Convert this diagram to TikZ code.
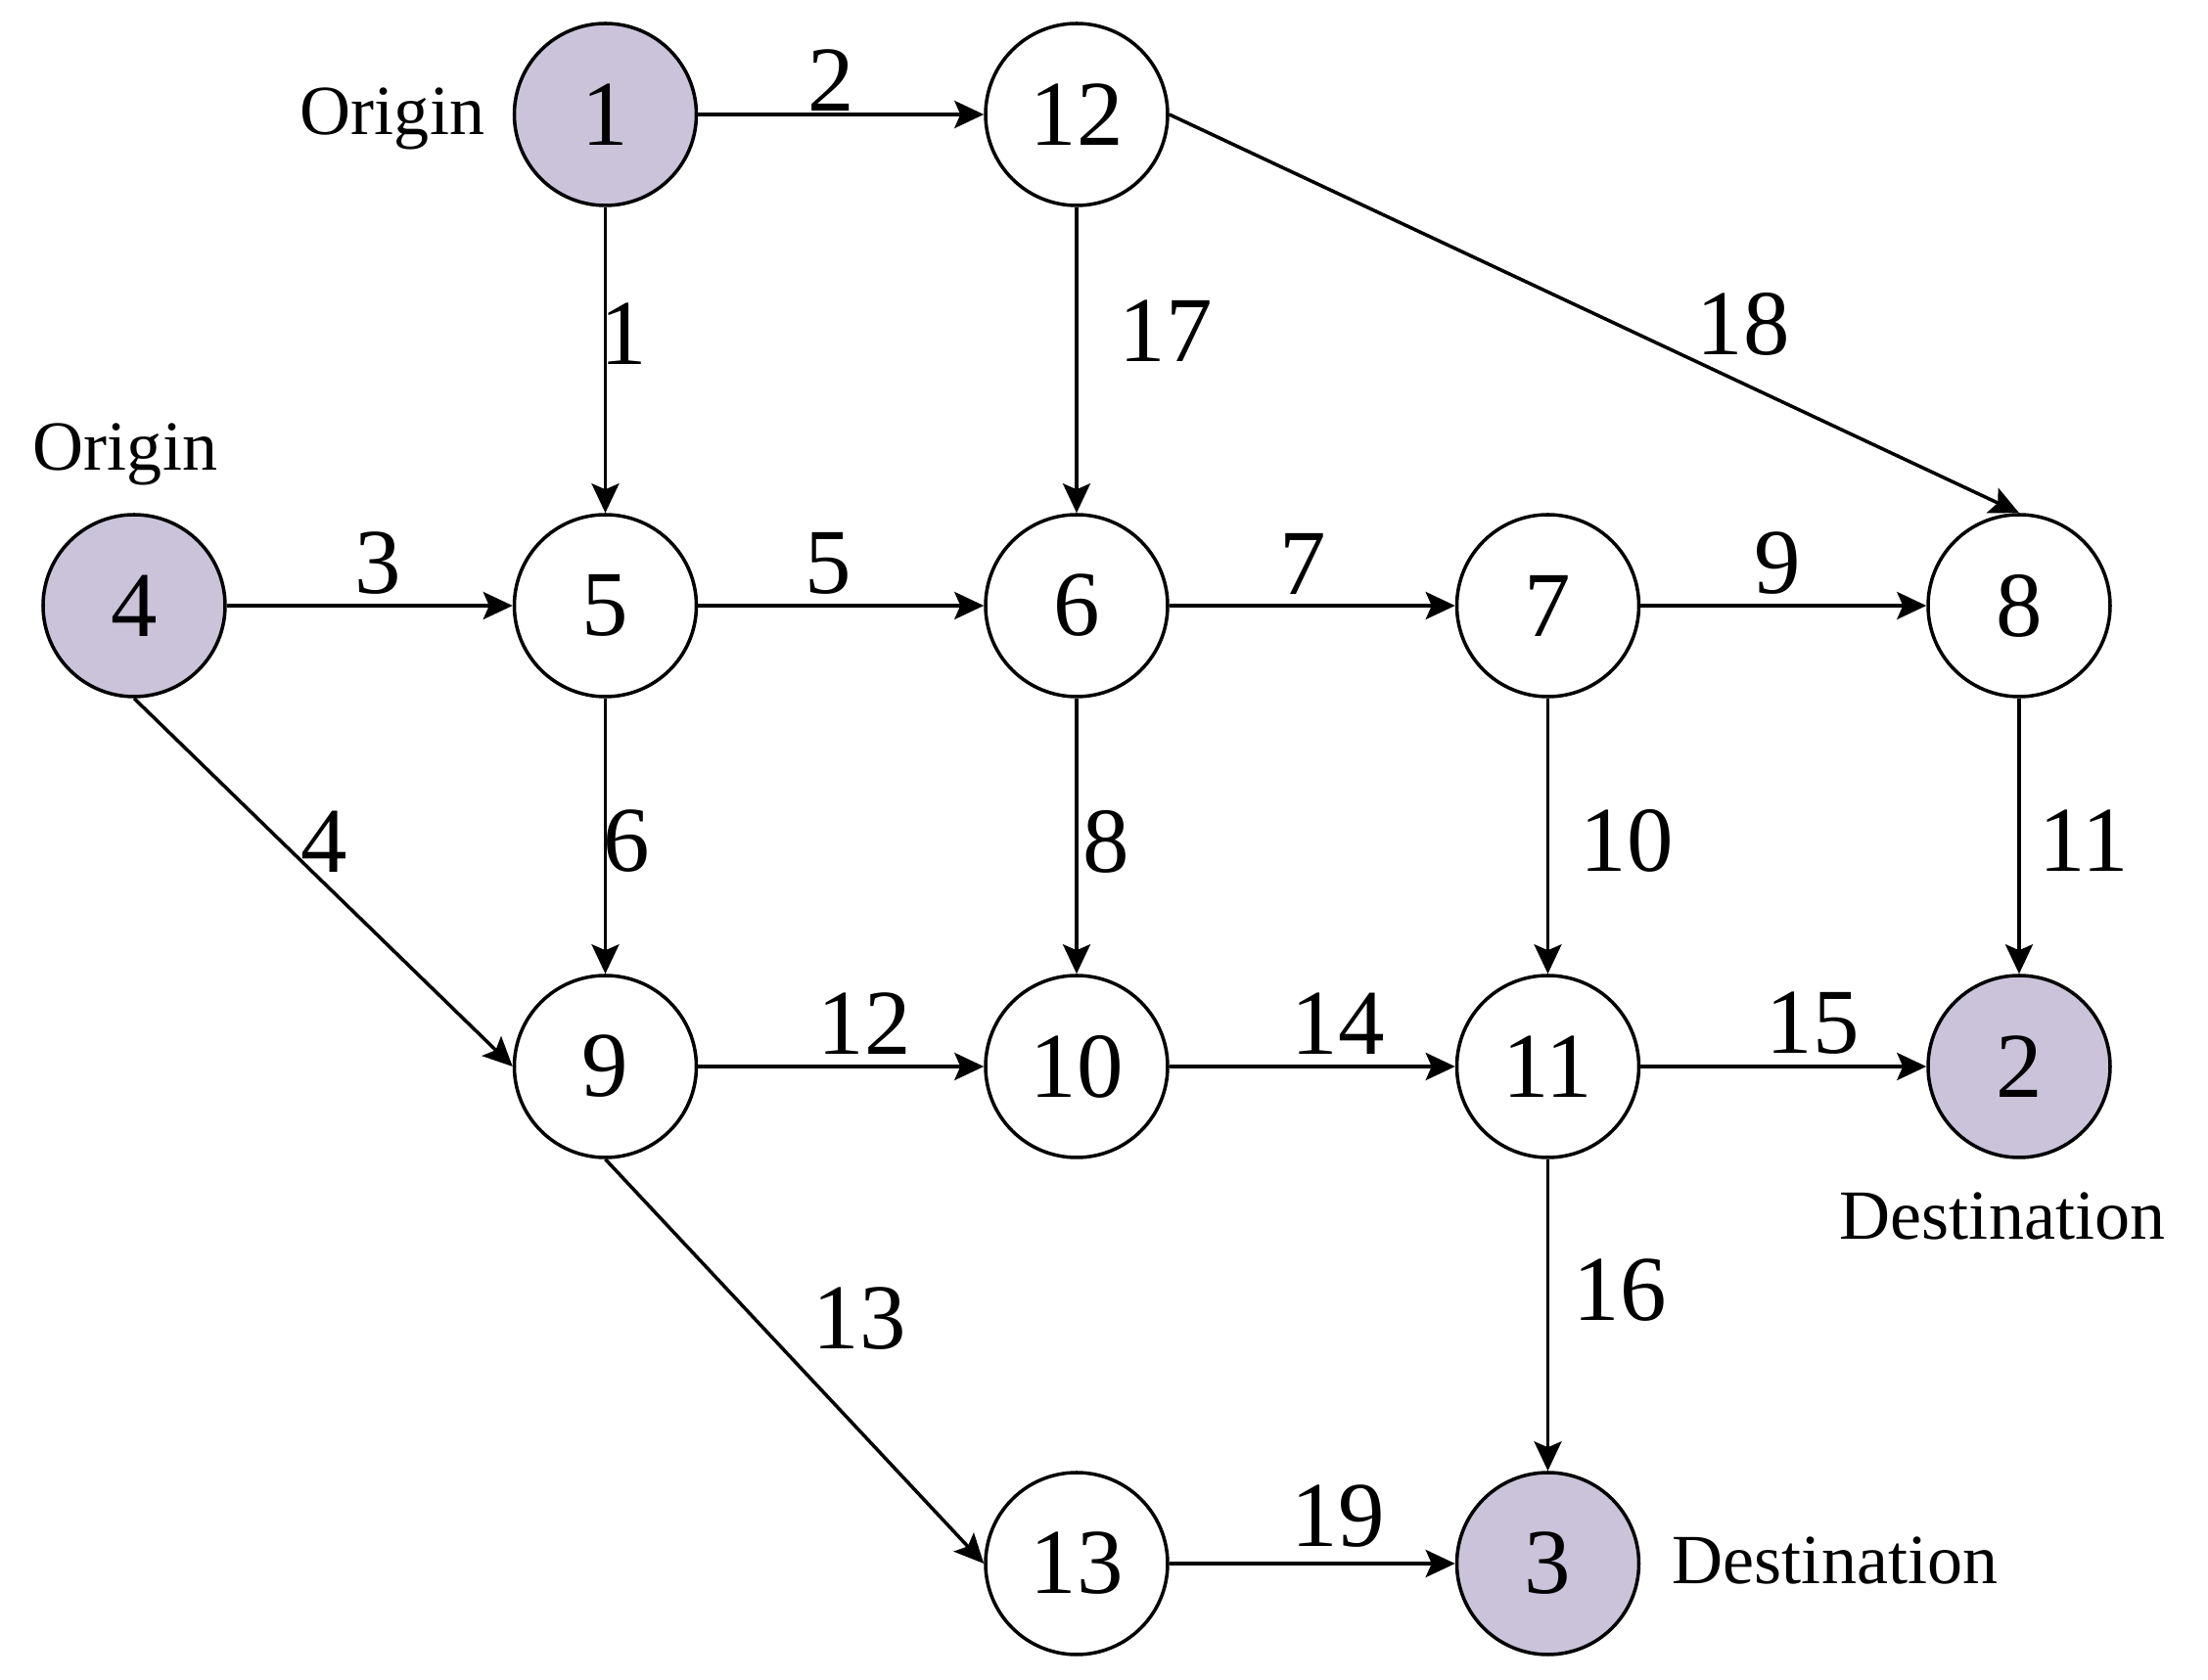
\documentclass[tikz,border=0pt]{standalone}
\usepackage{fontspec}
\setmainfont{Liberation Serif}
\usetikzlibrary{arrows.meta}
\definecolor{odfill}{RGB}{203,195,218}

\begin{document}
\begin{tikzpicture}[
    town/.style={draw, circle, line width=1pt, minimum size=1.86cm, inner sep=0pt, font=\fontsize{27}{32}\selectfont},
    odtown/.style={town, fill=odfill},
    link/.style={line width=1pt, -{Stealth[length=3mm, width=2.8mm, inset=0.6mm]}},
    linkno/.style={inner sep=0pt, font=\fontsize{27}{32}\selectfont},
    tag/.style={inner sep=0pt, anchor=base, font=\fontsize{20.5}{24}\selectfont}
]
    \useasboundingbox (0,0) rectangle (22.56,17.17);

    % Top row
    \node[odtown] (n1) at (6.185,16.00) {1};
    \node[town] (n12) at (11.00,16.00) {12};
    \node[tag] (o1) at (4.01,15.79) {Origin};

    % Second row
    \node[odtown] (n4) at (1.37,10.98) {4};
    \node[town] (n5) at (6.185,10.98) {5};
    \node[town] (n6) at (11.00,10.98) {6};
    \node[town] (n7) at (15.815,10.98) {7};
    \node[town] (n8) at (20.63,10.98) {8};
    \node[tag] (o4) at (1.28,12.36) {Origin};

    % Third row
    \node[town] (n9) at (6.185,6.27) {9};
    \node[town] (n10) at (11.00,6.27) {10};
    \node[town] (n11) at (15.815,6.27) {11};
    \node[odtown] (n2) at (20.63,6.27) {2};
    \node[tag] (d2) at (20.46,4.50) {Destination};

    % Bottom row
    \node[town] (n13) at (11.00,1.19) {13};
    \node[odtown] (n3) at (15.815,1.19) {3};
    \node[tag] (d3) at (18.75,0.98) {Destination};

    % Links out of the origins
    \draw[link] (n1) -- (n12);
    \node[linkno] (e2) at (8.49,16.35) {2};
    \draw[link] (n1) -- (n5);
    \node[linkno] (e1) at (6.37,13.76) {1};
    \draw[link] (n12) -- (n6);
    \node[linkno] (e17) at (11.91,13.79) {17};
    \draw[link] (n12.east) -- (n8.north);
    \node[linkno] (e18) at (17.81,13.86) {18};
    \draw[link] (n4) -- (n5);
    \node[linkno] (e3) at (3.86,11.41) {3};
    \draw[link] (n4.south) -- (n9.west);
    \node[linkno] (e4) at (3.31,8.57) {4};

    % Middle links
    \draw[link] (n5) -- (n6);
    \node[linkno] (e5) at (8.46,11.41) {5};
    \draw[link] (n6) -- (n7);
    \node[linkno] (e7) at (13.31,11.41) {7};
    \draw[link] (n7) -- (n8);
    \node[linkno] (e9) at (18.16,11.41) {9};
    \draw[link] (n5) -- (n9);
    \node[linkno] (e6) at (6.40,8.57) {6};
    \draw[link] (n6) -- (n10);
    \node[linkno] (e8) at (11.30,8.57) {8};
    \draw[link] (n7) -- (n11);
    \node[linkno] (e10) at (16.62,8.58) {10};
    \draw[link] (n8) -- (n2);
    \node[linkno] (e11) at (21.29,8.58) {11};
    \draw[link] (n9) -- (n10);
    \node[linkno] (e12) at (8.83,6.71) {12};
    \draw[link] (n10) -- (n11);
    \node[linkno] (e14) at (13.67,6.71) {14};
    \draw[link] (n11) -- (n2);
    \node[linkno] (e15) at (18.52,6.71) {15};

    % Links into the lower destination
    \draw[link] (n9.south) -- (n13.west);
    \node[linkno] (e13) at (8.78,3.69) {13};
    \draw[link] (n11) -- (n3);
    \node[linkno] (e16) at (16.55,3.98) {16};
    \draw[link] (n13) -- (n3);
    \node[linkno] (e19) at (13.67,1.67) {19};
\end{tikzpicture}
\end{document}
